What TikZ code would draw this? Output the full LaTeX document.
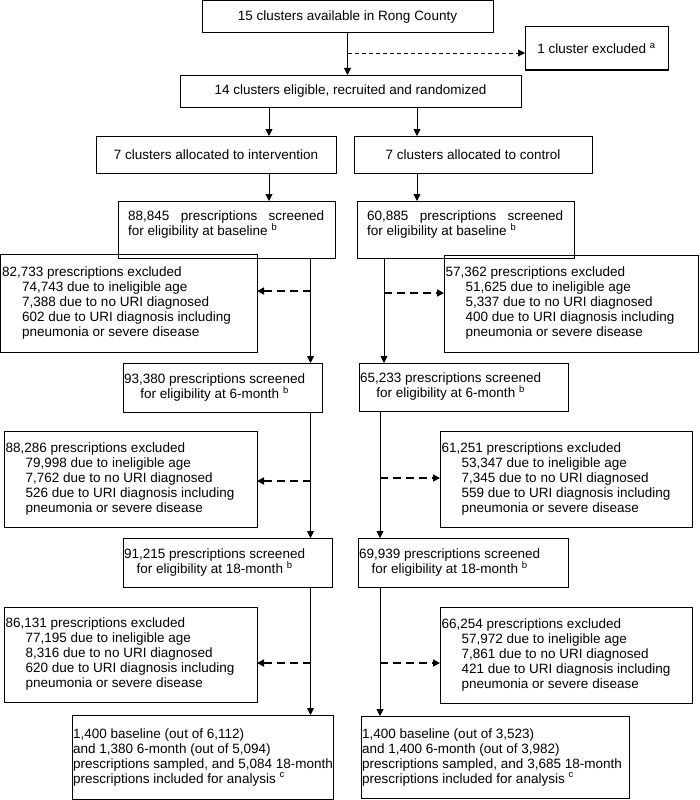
\documentclass[tikz,border=0pt]{standalone}
\usepackage{fontspec}
\setmainfont{Liberation Sans}
\usetikzlibrary{arrows.meta}
\tikzset{
  box/.style={draw, line width=1pt, inner sep=0pt, outer sep=0pt, anchor=north west},
  txt/.style={font=\fontsize{13.5}{15}\selectfont, inner sep=0pt},
  arr/.style={line width=0.9pt, -{Triangle[length=7pt,width=7pt]}},
  darr/.style={line width=1.6pt, dash pattern=on 8pt off 5pt, -{Triangle[length=7pt,width=7pt]}},
  tdarr/.style={line width=0.9pt, dash pattern=on 4pt off 3pt, -{Triangle[length=7pt,width=7pt]}}
}
\newcommand\bx[5]{\node[box, minimum width={(#4-#2)*1pt}, minimum height={(#5-#3)*1pt}] (#1) at (#2,#3) {};}
\newcommand\ind{\hspace*{20pt}}
\begin{document}
\begin{tikzpicture}[x=1pt,y=-1pt]
\useasboundingbox (0,0) rectangle (699,800);
% boxes
\bx{b1}{202}{1}{493}{33}
\bx{bx}{525}{27}{668}{70}
\bx{b14}{180}{75}{521}{107}
\bx{bI}{96}{136}{336}{173}
\bx{bC}{354}{136}{592}{173}
\bx{sL0}{118}{201}{335}{258}
\bx{sR0}{357}{201}{574}{258}
\bx{eL1}{0.5}{254}{257}{352}
\bx{eR1}{444}{255}{698}{352}
\bx{sL6}{123}{363}{322}{412}
\bx{sR6}{359}{363}{568}{411}
\bx{eL2}{4}{431}{257}{527}
\bx{eR2}{440}{431}{692}{527}
\bx{sL18}{123}{538}{332}{587}
\bx{sR18}{358}{538}{568}{587}
\bx{eL3}{4}{607}{257}{702}
\bx{eR3}{440}{607}{692}{703}
\bx{fL}{72}{715}{333}{799}
\bx{fR}{361}{716}{629}{798}
% texts
\node[txt] (t1) at (b1.center) {15 clusters available in Rong County};
\node[txt] (tx) at (bx.center) {1 cluster excluded \textsuperscript{a}};
\node[txt] (t14) at (b14.center) {14 clusters eligible, recruited and randomized};
\node[txt] (tI) at (bI.center) {7 clusters allocated to intervention};
\node[txt] (tC) at (bC.center) {7 clusters allocated to control};
\node[txt, align=left, anchor=north west] (tsL0) at ([xshift=10pt,yshift=-10pt]sL0.north west)
  {\makebox[196pt][s]{88,845 prescriptions screened}\\for eligibility at baseline \textsuperscript{b}};
\node[txt, align=left, anchor=north west] (tsR0) at ([xshift=10pt,yshift=-10pt]sR0.north west)
  {\makebox[196pt][s]{60,885 prescriptions screened}\\for eligibility at baseline \textsuperscript{b}};
\node[txt, align=left, anchor=west] (teL1) at ([xshift=1.5pt]eL1.west)
  {82,733 prescriptions excluded\\\ind 74,743 due to ineligible age\\\ind 7,388 due to no URI diagnosed\\\ind 602 due to URI diagnosis including\\\ind pneumonia or severe disease};
\node[txt, align=left, anchor=west] (teR1) at ([xshift=1.5pt]eR1.west)
  {57,362 prescriptions excluded\\\ind 51,625 due to ineligible age\\\ind 5,337 due to no URI diagnosed\\\ind 400 due to URI diagnosis including\\\ind pneumonia or severe disease};
\node[txt, align=center, anchor=west] (tsL6) at ([xshift=1pt]sL6.west)
  {93,380 prescriptions screened\\for eligibility at 6-month \textsuperscript{b}};
\node[txt, align=center, anchor=west] (tsR6) at ([xshift=1pt]sR6.west)
  {65,233 prescriptions screened\\for eligibility at 6-month \textsuperscript{b}};
\node[txt, align=left, anchor=west] (teL2) at ([xshift=1.5pt]eL2.west)
  {88,286 prescriptions excluded\\\ind 79,998 due to ineligible age\\\ind 7,762 due to no URI diagnosed\\\ind 526 due to URI diagnosis including\\\ind pneumonia or severe disease};
\node[txt, align=left, anchor=west] (teR2) at ([xshift=1.5pt]eR2.west)
  {61,251 prescriptions excluded\\\ind 53,347 due to ineligible age\\\ind 7,345 due to no URI diagnosed\\\ind 559 due to URI diagnosis including\\\ind pneumonia or severe disease};
\node[txt, align=center, anchor=west] (tsL18) at ([xshift=1pt]sL18.west)
  {91,215 prescriptions screened\\for eligibility at 18-month \textsuperscript{b}};
\node[txt, align=center, anchor=west] (tsR18) at ([xshift=1pt]sR18.west)
  {69,939 prescriptions screened\\for eligibility at 18-month \textsuperscript{b}};
\node[txt, align=left, anchor=west] (teL3) at ([xshift=1.5pt]eL3.west)
  {86,131 prescriptions excluded\\\ind 77,195 due to ineligible age\\\ind 8,316 due to no URI diagnosed\\\ind 620 due to URI diagnosis including\\\ind pneumonia or severe disease};
\node[txt, align=left, anchor=west] (teR3) at ([xshift=1.5pt]eR3.west)
  {66,254 prescriptions excluded\\\ind 57,972 due to ineligible age\\\ind 7,861 due to no URI diagnosed\\\ind 421 due to URI diagnosis including\\\ind pneumonia or severe disease};
\node[txt, align=left, anchor=west] (tfL) at ([xshift=1pt]fL.west)
  {1,400 baseline (out of 6,112)\\and 1,380 6-month (out of 5,094)\\prescriptions sampled, and 5,084 18-month\\prescriptions included for analysis \textsuperscript{c}};
\node[txt, align=left, anchor=west] (tfR) at ([xshift=1pt]fR.west)
  {1,400 baseline (out of 3,523)\\and 1,400 6-month (out of 3,982)\\prescriptions sampled, and 3,685 18-month\\prescriptions included for analysis \textsuperscript{c}};
% connector x positions
\coordinate (xa) at (269,0);
\coordinate (xb) at (417,0);
\coordinate (xl) at (310.5,0);
\coordinate (xr0) at (384,0);
\coordinate (xr) at (380,0);
\coordinate (d0) at (348,53);
% connectors
\draw[arr] (b1.south) -- (b1.south |- b14.north);
\draw[tdarr] (d0) -- (d0 -| bx.west);
\draw[arr] (xa |- b14.south) -- (xa |- bI.north);
\draw[arr] (xb |- b14.south) -- (xb |- bC.north);
\draw[arr] (xa |- bI.south) -- (xa |- sL0.north);
\draw[arr] (xb |- bC.south) -- (xb |- sR0.north);
% left column
\draw[arr] (xl |- sL0.south) -- (xl |- sL6.north);
\draw[arr] (xl |- sL6.south) -- (xl |- sL18.north);
\draw[arr] (xl |- sL18.south) -- (xl |- fL.north);
\coordinate (dl1) at (310.5,291);
\coordinate (dl2) at (310.5,481);
\coordinate (dl3) at (310.5,663);
\draw[darr] (dl1) -- (dl1 -| eL1.east);
\draw[darr] (dl2) -- (dl2 -| eL2.east);
\draw[darr] (dl3) -- (dl3 -| eL3.east);
% right column
\draw[arr] (xr0 |- sR0.south) -- (xr0 |- sR6.north);
\draw[arr] (xr |- sR6.south) -- (xr |- sR18.north);
\draw[arr] (xr |- sR18.south) -- (xr |- fR.north);
\coordinate (dr1) at (384,293);
\coordinate (dr2) at (380,478);
\coordinate (dr3) at (380,663);
\draw[darr] (dr1) -- (dr1 -| eR1.west);
\draw[darr] (dr2) -- (dr2 -| eR2.west);
\draw[darr] (dr3) -- (dr3 -| eR3.west);
\end{tikzpicture}
\end{document}
